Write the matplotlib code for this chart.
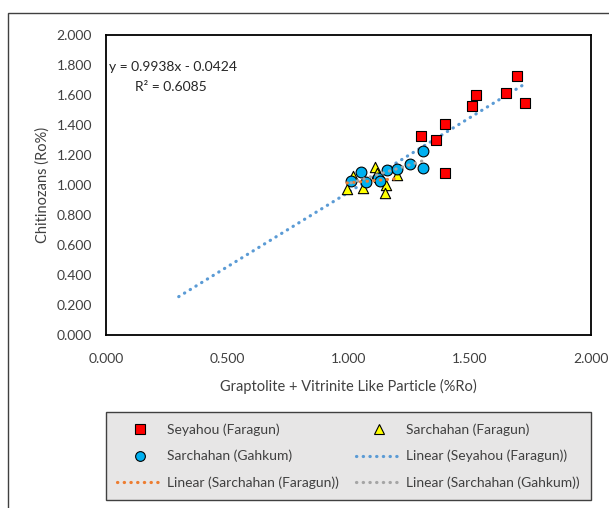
import numpy as np
import matplotlib
matplotlib.use("Agg")
import matplotlib.pyplot as plt
from matplotlib.patches import Rectangle
from matplotlib.lines import Line2D

plt.rcParams['font.family'] = ['Lato', 'DejaVu Sans']

# Seyahou (Faragun) - red squares
sey_x = [1.695, 1.524, 1.509, 1.650, 1.728, 1.399, 1.300, 1.361, 1.398]
sey_y = [1.727, 1.598, 1.527, 1.611, 1.549, 1.407, 1.327, 1.302, 1.080]

# Sarchahan (Faragun) - yellow triangles
far_x = [0.994, 1.019, 1.060, 1.109, 1.118, 1.155, 1.151, 1.200]
far_y = [0.975, 1.060, 0.980, 1.120, 1.080, 1.000, 0.947, 1.067]

# Sarchahan (Gahkum) - blue circles
gah_x = [1.010, 1.052, 1.072, 1.122, 1.130, 1.159, 1.200, 1.254, 1.307, 1.307]
gah_y = [1.027, 1.087, 1.020, 1.047, 1.027, 1.100, 1.107, 1.140, 1.227, 1.113]

# trendline shown on chart for Seyahou
sey_slope = 0.9938
sey_icept = -0.0424
sey_r2 = 0.6085
sey_trend_from = 0.3

fig = plt.figure(figsize=(6.09, 5.08), dpi=100)
ax = fig.add_axes([106 / 609, 1 - 335 / 508, 485 / 609, 300 / 508])

dots = dict(linestyle=(0, (0.1, 2.0)), linewidth=2.3, dash_capstyle='round')

# trendlines
xs = np.array([sey_trend_from, max(sey_x)])
ax.plot(xs, sey_slope * xs + sey_icept, color='#5B9BD5', zorder=2, **dots)

p = np.polyfit(far_x, far_y, 1)
xs = np.array([min(far_x), max(far_x)])
ax.plot(xs, np.polyval(p, xs), color='#ED7D31', zorder=4, **dots)

p = np.polyfit(gah_x, gah_y, 1)
xs = np.array([min(gah_x), max(gah_x)])
ax.plot(xs, np.polyval(p, xs), color='#A5A5A5', zorder=4, **dots)

# points
ax.scatter(sey_x, sey_y, marker='s', s=60, c='#FF0000', edgecolors='black', linewidths=0.8, zorder=3)
ax.scatter(far_x, far_y, marker='^', s=55, c='#FFFF00', edgecolors='black', linewidths=0.8, zorder=3)
ax.scatter(gah_x, gah_y, marker='o', s=60, c='#00B0F0', edgecolors='black', linewidths=0.8, zorder=3)

ax.text(0.006, 0.893, f"y = {sey_slope}x - {abs(sey_icept)}", transform=ax.transAxes,
        fontsize=10, color='#262626', va='center')
ax.text(0.06, 0.826, f"R² = {sey_r2}", transform=ax.transAxes,
        fontsize=10, color='#262626', va='center')

ax.set_xlim(0, 2)
ax.set_ylim(0, 2)
ax.set_xticks(np.arange(0, 2.01, 0.5))
ax.set_yticks(np.arange(0, 2.01, 0.2))
ax.xaxis.set_major_formatter(lambda v, pos: f"{v:.3f}")
ax.yaxis.set_major_formatter(lambda v, pos: f"{v:.3f}")
ax.tick_params(length=0, labelsize=10, labelcolor='#404040', pad=10)
ax.tick_params(axis='x', pad=13)
for s in ax.spines.values():
    s.set_color('black')
    s.set_linewidth(1.3)

ax.set_xlabel("Graptolite + Vitrinite Like Particle (%Ro)", fontsize=10.5, color='#404040', labelpad=10)
ax.set_ylabel("Chitinozans (Ro%)", fontsize=10.5, color='#404040', labelpad=5)

# legend (column-major order)
h_sey = Line2D([], [], ls='none', marker='s', ms=7, mfc='#FF0000', mec='black', mew=0.8)
h_far = Line2D([], [], ls='none', marker='^', ms=7, mfc='#FFFF00', mec='black', mew=0.8)
h_gah = Line2D([], [], ls='none', marker='o', ms=7, mfc='#00B0F0', mec='black', mew=0.8)
l_sey = Line2D([], [], color='#5B9BD5', **dots)
l_far = Line2D([], [], color='#ED7D31', **dots)
l_gah = Line2D([], [], color='#A5A5A5', **dots)
handles = [h_sey, h_gah, l_far, h_far, l_sey, l_gah]
labels = ["Seyahou (Faragun)", "Sarchahan (Gahkum)", "Linear (Sarchahan (Faragun))",
          "Sarchahan (Faragun)", "Linear (Seyahou (Faragun))", "Linear (Sarchahan (Gahkum))"]
leg = fig.legend(handles, labels, ncol=2, loc='lower left',
                 bbox_to_anchor=(106 / 609, 1 - 500 / 508, 485 / 609, 97 / 508),
                 mode='expand', fontsize=10, frameon=True, fancybox=False,
                 facecolor='#E7E6E6', edgecolor='#404040', framealpha=1,
                 handlelength=3.3, handletextpad=0.3, labelspacing=1.0,
                 columnspacing=0.2, borderaxespad=0, borderpad=0.8)
leg.get_frame().set_linewidth(1.0)
for t in leg.get_texts():
    t.set_color('#404040')

# outer chart border
fig.add_artist(Rectangle((8 / 609, -0.1), 1.2, 1.1 - 13 / 508, transform=fig.transFigure,
                         fill=False, edgecolor='#404040', linewidth=1.0))

fig.savefig("out.png", dpi=100)
